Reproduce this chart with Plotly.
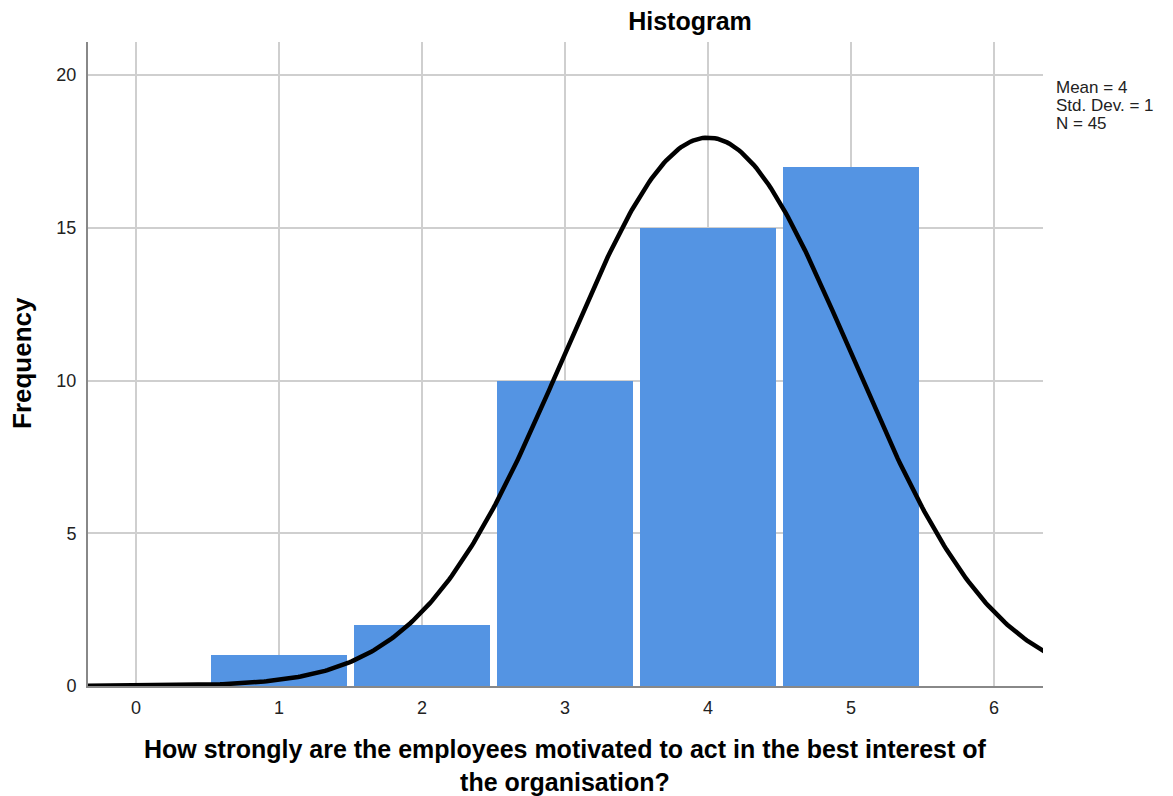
import numpy as np
import plotly.graph_objects as go

# Data
categories = [1, 2, 3, 4, 5]
frequencies = [1, 2, 10, 15, 17]
x_ticks = [0, 1, 2, 3, 4, 5, 6]
y_ticks = [0, 5, 10, 15, 20]
mean_val = 4.0
std_val = 1.0
n_val = 45
bin_width = 1.0
stats_lines = ["Mean = 4", "Std. Dev. = 1", "N = 45"]
x_title_lines = ["How strongly are the employees motivated to act in the best interest of",
                 "the organisation?"]
y_title = "Frequency"
chart_title = "Histogram"

# Normal curve from stated parameters
xs = np.linspace(-0.4, 6.4, 400)
ys = n_val * bin_width / (std_val * np.sqrt(2 * np.pi)) * np.exp(-0.5 * ((xs - mean_val) / std_val) ** 2)

FONT = "Liberation Sans, Arial, sans-serif"

fig = go.Figure()
fig.add_trace(go.Bar(
    x=categories, y=frequencies, width=0.95,
    marker=dict(color="#5494e3", line=dict(width=0)),
    hoverinfo="x+y", showlegend=False,
))
fig.add_trace(go.Scatter(
    x=xs, y=ys, mode="lines",
    line=dict(color="black", width=4.5),
    showlegend=False, hoverinfo="skip",
))

annotations = []
for i, line in enumerate(stats_lines):
    annotations.append(dict(
        text=line, xref="paper", yref="paper", x=1.0115, y=0.9289 - i * 0.028,
        xanchor="left", yanchor="middle", align="left", showarrow=False,
        font=dict(size=17, color="#222222", family=FONT),
    ))
annotations.append(dict(
    text="<b>" + "<br>".join(x_title_lines) + "</b>", xref="paper", yref="paper",
    x=0.5, y=-0.1235, xanchor="center", yanchor="middle", align="center", showarrow=False,
    font=dict(size=25, color="black", family=FONT),
))
annotations.append(dict(
    text="<b>" + y_title + "</b>", xref="paper", yref="paper", x=-0.0691, y=0.5016,
    xanchor="center", yanchor="middle", textangle=-90, showarrow=False,
    font=dict(size=26, color="black", family=FONT),
))

fig.update_layout(
    width=1173, height=796,
    margin=dict(l=80, r=138, t=34, b=118),
    plot_bgcolor="white", paper_bgcolor="white",
    font=dict(family=FONT, color="#222222"),
    title=dict(text="<b>" + chart_title + "</b>", x=682 / 1173, xanchor="center",
               y=1 - 13 / 796, yanchor="middle", xref="container", yref="container",
               font=dict(size=25, color="black", family=FONT)),
    xaxis=dict(
        range=[-0.336, 6.343], tickvals=x_ticks, ticktext=[str(v) for v in x_ticks],
        showgrid=True, gridcolor="#cfcfcf", gridwidth=1.5,
        showline=True, linecolor="#888888", linewidth=2,
        zeroline=False, ticks="outside", ticklen=4, tickcolor="rgba(0,0,0,0)",
        tickfont=dict(size=18, color="#222222"),
    ),
    yaxis=dict(
        range=[0, 21.08], tickvals=y_ticks, ticktext=[str(v) for v in y_ticks],
        showgrid=True, gridcolor="#cfcfcf", gridwidth=1.5,
        showline=True, linecolor="#888888", linewidth=2,
        zeroline=False, ticks="outside", ticklen=6, tickcolor="rgba(0,0,0,0)",
        tickfont=dict(size=18, color="#222222"),
    ),
    annotations=annotations,
    bargap=0,
)

fig.write_html("out.html")
